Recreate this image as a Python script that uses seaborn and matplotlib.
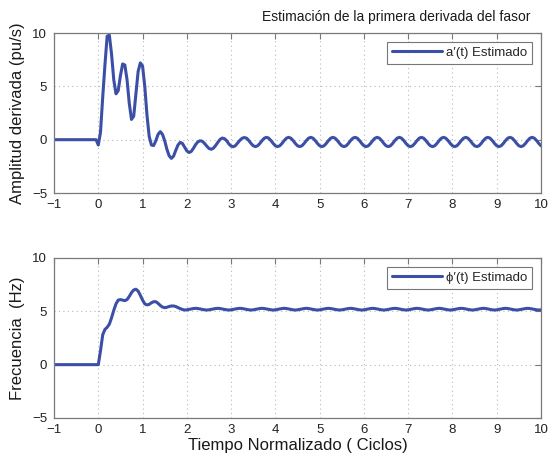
import numpy as np
import pandas as pd
import matplotlib
matplotlib.use("Agg")
import matplotlib.pyplot as plt
import seaborn as sns

# Sample times (ciclos): two pre-event samples, then a 0.05-cycle grid over 0..10
t_pre = [-1.0, -0.05]
t_grid = np.round(np.linspace(0.0, 10.0, 201), 2)

# Estimated derivative of the phasor amplitude (pu/s)
amp_pre = [0.0, 0.0]
amp_grid = [
    -0.5, 0.7, 4.0, 7.0, 9.7, 9.8, 8.0, 5.6, 4.3, 4.6,            # 0.00-0.45
    6.0, 7.1, 7.0, 5.6, 3.4, 1.9, 2.2, 4.3, 6.4, 7.2,             # 0.50-0.95
    6.9, 5.0, 2.3, 0.3, -0.5, -0.55, -0.1, 0.5, 0.75, 0.5,        # 1.00-1.45
    -0.1, -0.9, -1.5, -1.75, -1.55, -1.0, -0.5, -0.25, -0.35, -0.7,  # 1.50-1.95
    -1.05, -1.2, -1.1, -0.8, -0.45, -0.2, -0.1, -0.15, -0.35, -0.6,  # 2.00-2.45
    -0.82, -0.9, -0.8, -0.55, -0.25, 0.02, 0.15, 0.1, -0.1, -0.4,    # 2.50-2.95
    -0.6, -0.66, -0.55, -0.3, -0.05, 0.14, 0.2, 0.14, -0.08, -0.35,  # 3.00-3.45
    -0.57, -0.65, -0.57, -0.35, -0.08, 0.14, 0.22, 0.14, -0.08, -0.35,  # 3.50-3.95
    -0.57, -0.65, -0.57, -0.35, -0.08, 0.14, 0.22, 0.14, -0.08, -0.35,  # 4.00-4.45
    -0.57, -0.65, -0.57, -0.35, -0.08, 0.14, 0.22, 0.14, -0.08, -0.35,  # 4.50-4.95
    -0.57, -0.65, -0.57, -0.35, -0.08, 0.14, 0.22, 0.14, -0.08, -0.35,  # 5.00-5.45
    -0.57, -0.65, -0.57, -0.35, -0.08, 0.14, 0.22, 0.14, -0.08, -0.35,  # 5.50-5.95
    -0.57, -0.65, -0.57, -0.35, -0.08, 0.14, 0.22, 0.14, -0.08, -0.35,  # 6.00-6.45
    -0.57, -0.65, -0.57, -0.35, -0.08, 0.14, 0.22, 0.14, -0.08, -0.35,  # 6.50-6.95
    -0.57, -0.65, -0.57, -0.35, -0.08, 0.14, 0.22, 0.14, -0.08, -0.35,  # 7.00-7.45
    -0.57, -0.65, -0.57, -0.35, -0.08, 0.14, 0.22, 0.14, -0.08, -0.35,  # 7.50-7.95
    -0.57, -0.65, -0.57, -0.35, -0.08, 0.14, 0.22, 0.14, -0.08, -0.35,  # 8.00-8.45
    -0.57, -0.65, -0.57, -0.35, -0.08, 0.14, 0.22, 0.14, -0.08, -0.35,  # 8.50-8.95
    -0.57, -0.65, -0.57, -0.35, -0.08, 0.14, 0.22, 0.14, -0.08, -0.35,  # 9.00-9.45
    -0.57, -0.65, -0.57, -0.35, -0.08, 0.14, 0.22, 0.14, -0.08, -0.35,  # 9.50-9.95
    -0.57,                                                            # 10.00
]

# Estimated derivative of the phasor phase, i.e. frequency (Hz)
freq_pre = [0.0, 0.0]
freq_grid = [
    0.0, 1.3, 2.8, 3.3, 3.5, 3.8, 4.4, 5.1, 5.7, 6.05,             # 0.00-0.45
    6.1, 6.05, 6.0, 6.1, 6.4, 6.75, 7.0, 7.07, 6.9, 6.5,           # 0.50-0.95
    6.05, 5.7, 5.6, 5.65, 5.8, 5.9, 5.9, 5.75, 5.55, 5.4,          # 1.00-1.45
    5.34, 5.38, 5.45, 5.5, 5.5, 5.45, 5.35, 5.25, 5.17, 5.12,      # 1.50-1.95
    5.14, 5.18, 5.22, 5.26, 5.28, 5.26, 5.22, 5.18, 5.14, 5.12,    # 2.00-2.45
    5.14, 5.18, 5.22, 5.26, 5.28, 5.26, 5.22, 5.18, 5.14, 5.12,    # 2.50-2.95
    5.14, 5.18, 5.22, 5.26, 5.28, 5.26, 5.22, 5.18, 5.14, 5.12,    # 3.00-3.45
    5.14, 5.18, 5.22, 5.26, 5.28, 5.26, 5.22, 5.18, 5.14, 5.12,    # 3.50-3.95
    5.14, 5.18, 5.22, 5.26, 5.28, 5.26, 5.22, 5.18, 5.14, 5.12,    # 4.00-4.45
    5.14, 5.18, 5.22, 5.26, 5.28, 5.26, 5.22, 5.18, 5.14, 5.12,    # 4.50-4.95
    5.14, 5.18, 5.22, 5.26, 5.28, 5.26, 5.22, 5.18, 5.14, 5.12,    # 5.00-5.45
    5.14, 5.18, 5.22, 5.26, 5.28, 5.26, 5.22, 5.18, 5.14, 5.12,    # 5.50-5.95
    5.14, 5.18, 5.22, 5.26, 5.28, 5.26, 5.22, 5.18, 5.14, 5.12,    # 6.00-6.45
    5.14, 5.18, 5.22, 5.26, 5.28, 5.26, 5.22, 5.18, 5.14, 5.12,    # 6.50-6.95
    5.14, 5.18, 5.22, 5.26, 5.28, 5.26, 5.22, 5.18, 5.14, 5.12,    # 7.00-7.45
    5.14, 5.18, 5.22, 5.26, 5.28, 5.26, 5.22, 5.18, 5.14, 5.12,    # 7.50-7.95
    5.14, 5.18, 5.22, 5.26, 5.28, 5.26, 5.22, 5.18, 5.14, 5.12,    # 8.00-8.45
    5.14, 5.18, 5.22, 5.26, 5.28, 5.26, 5.22, 5.18, 5.14, 5.12,    # 8.50-8.95
    5.14, 5.18, 5.22, 5.26, 5.28, 5.26, 5.22, 5.18, 5.14, 5.12,    # 9.00-9.45
    5.14, 5.18, 5.22, 5.26, 5.28, 5.26, 5.22, 5.18, 5.14, 5.12,    # 9.50-9.95
    5.14,                                                          # 10.00
]

x_ticks = list(range(-1, 11))
y_ticks = [-5, 0, 5, 10]

title = "Estimación de la primera derivada del fasor"
ylabel_top = "Amplitud derivada (pu/s)"
ylabel_bottom = "Frecuencia  (Hz)"
xlabel = "Tiempo Normalizado ( Ciclos)"
legend_top = "a′(t) Estimado"
legend_bottom = "ϕ′(t) Estimado"

t = np.concatenate([t_pre, t_grid])
df_amp = pd.DataFrame({"t": t, "v": np.concatenate([amp_pre, amp_grid])})
df_freq = pd.DataFrame({"t": t, "v": np.concatenate([freq_pre, freq_grid])})

sns.set_theme(style="white")
plt.rcParams["font.family"] = ["Liberation Sans", "DejaVu Sans"]

LINE = "#3c4fa6"
SPINE = "#7a7a7a"

fig = plt.figure(figsize=(5.49, 4.61), dpi=100)
ax1 = fig.add_axes([0.0984, 0.5813, 0.8870, 0.3471])
ax2 = fig.add_axes([0.0984, 0.0933, 0.8870, 0.3471])

for ax, df, ylab, leg in [(ax1, df_amp, ylabel_top, legend_top),
                          (ax2, df_freq, ylabel_bottom, legend_bottom)]:
    sns.lineplot(data=df, x="t", y="v", ax=ax, color=LINE, linewidth=2.2,
                 label=leg, estimator=None, sort=False)
    ax.set_xlim(-1, 10)
    ax.set_ylim(-5, 10)
    ax.set_xticks(x_ticks)
    ax.set_yticks(y_ticks)
    ax.set_yticklabels(["\u22125", "0", "5", "10"])
    ax.grid(True, linestyle=(0, (1, 3)), color="#b8b8b8", linewidth=0.8)
    ax.tick_params(direction="in", top=True, right=True, length=4,
                   width=0.8, color=SPINE, labelsize=9.5, pad=4,
                   labelcolor="#222222")
    ax.tick_params(axis="y", pad=5)
    for s in ax.spines.values():
        s.set_color(SPINE)
        s.set_linewidth(0.9)
    ax.set_ylabel(ylab, fontsize=12, color="#1a1a1a", labelpad=5)
    ax.set_xlabel("")
    lg = ax.legend(loc="upper right", fontsize=9.5, frameon=True,
                   fancybox=False, edgecolor="#555555", handlelength=3.8,
                   borderpad=0.35, handletextpad=0.3,
                   borderaxespad=0.7)
    lg.get_frame().set_linewidth(0.8)

ax1.set_xticklabels(["\u22121"] + [str(v) for v in x_ticks[1:]])
ax2.set_xticklabels(["\u22121"] + [str(v) for v in x_ticks[1:]])
ax2.set_xlabel(xlabel, fontsize=12, color="#1a1a1a", labelpad=2)

fig.text(0.722, 0.963, title, ha="center", va="center", fontsize=10,
         color="#1a1a1a")

fig.savefig("out.png", dpi=100, facecolor="white")
